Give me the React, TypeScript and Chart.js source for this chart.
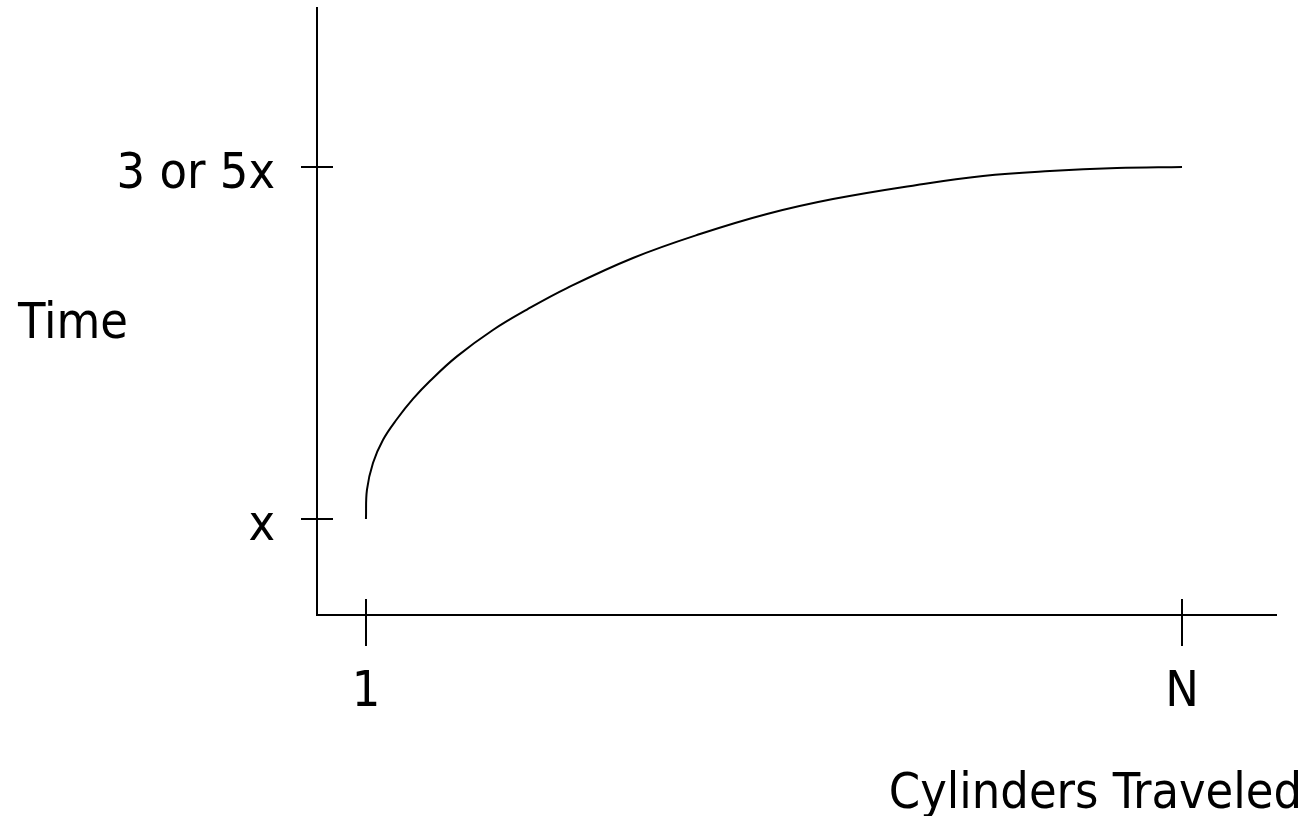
import React, { useEffect, useRef } from "react";
import { Chart, registerables } from "chart.js";

Chart.register(...registerables);

// Cylinders travelled, as a fraction of the way from 1 (0) to N (1)
const cylinderFraction = [0, 0.0012, 0.0086, 0.0208, 0.038, 0.0576, 0.0784, 0.1115, 0.1556, 0.1973, 0.2463, 0.3272, 0.4093, 0.4914, 0.5723, 0.6752, 0.7561, 0.8382, 0.9203, 1];
// Seek time in units of x (1 = x, 3 = "3 or 5x")
const seekTime = [1, 1.165, 1.318, 1.449, 1.568, 1.682, 1.784, 1.924, 2.074, 2.19, 2.312, 2.483, 2.619, 2.733, 2.818, 2.898, 2.949, 2.977, 2.994, 3];

const xTickValues = [0, 1];
const xTickLabels = ["1", "N"];
const yTickValues = [1, 3];
const yTickLabels = ["x", "3 or 5x"];
const xTitle = "Cylinders Traveled";
const yTitle = "Time";

const FONT = '50px "DejaVu Sans Condensed", "DejaVu Sans", sans-serif';

const axesPlugin = {
  id: "schematicAxes",
  afterDraw(chart: any) {
    const ctx = chart.ctx;
    const xs = chart.scales.x;
    const ys = chart.scales.y;
    const left = xs.left;
    const right = xs.right;
    const top = ys.top;
    const bottom = ys.bottom;
    ctx.save();
    ctx.strokeStyle = "#000";
    ctx.lineWidth = 2;
    ctx.lineCap = "butt";
    ctx.beginPath();
    ctx.moveTo(left, top);
    ctx.lineTo(left, bottom);
    ctx.lineTo(right, bottom);
    ctx.stroke();

    ctx.fillStyle = "#000";
    ctx.font = FONT;

    yTickValues.forEach((v, i) => {
      const py = Math.round(ys.getPixelForValue(v));
      ctx.beginPath();
      ctx.moveTo(left - 16, py);
      ctx.lineTo(left + 16, py);
      ctx.stroke();
      ctx.textAlign = "right";
      ctx.textBaseline = "middle";
      ctx.fillText(yTickLabels[i], left - 42, py + 8);
    });

    xTickValues.forEach((v, i) => {
      const px = Math.round(xs.getPixelForValue(v));
      ctx.beginPath();
      ctx.moveTo(px, bottom - 16);
      ctx.lineTo(px, bottom + 31);
      ctx.stroke();
      ctx.textAlign = "center";
      ctx.textBaseline = "alphabetic";
      ctx.fillText(xTickLabels[i], px, bottom + 91);
    });

    ctx.textAlign = "center";
    ctx.textBaseline = "middle";
    ctx.fillText(yTitle, 73, (top + bottom) / 2 + 14);

    ctx.textAlign = "right";
    ctx.textBaseline = "alphabetic";
    ctx.fillText(xTitle, right + 25, bottom + 193);
    ctx.restore();
  },
};

export default function App() {
  const ref = useRef<HTMLCanvasElement>(null);
  useEffect(() => {
    if (!ref.current) return;
    const chart = new Chart(ref.current, {
      type: "scatter",
      data: {
        datasets: [
          {
            data: cylinderFraction.map((x, i) => ({ x, y: seekTime[i] })),
            showLine: true,
            borderColor: "#000",
            borderWidth: 2,
            pointRadius: 0,
            tension: 0.4,
            fill: false,
          },
        ],
      },
      options: {
        animation: false,
        responsive: false,
        devicePixelRatio: 1,
        layout: { padding: { left: 317, right: 32, top: 7, bottom: 201 } },
        plugins: { legend: { display: false }, tooltip: { enabled: false }, title: { display: false } },
        scales: {
          x: { type: "linear", min: -0.06, max: 1.1164, display: false },
          y: { type: "linear", min: 0.4545, max: 3.909, display: false },
        },
      },
      plugins: [axesPlugin],
    } as any);
    return () => chart.destroy();
  }, []);
  return (
    <canvas
      ref={ref}
      width={1309}
      height={816}
      style={{ position: "fixed", left: 0, top: 0, width: 1309, height: 816 }}
    />
  );
}
